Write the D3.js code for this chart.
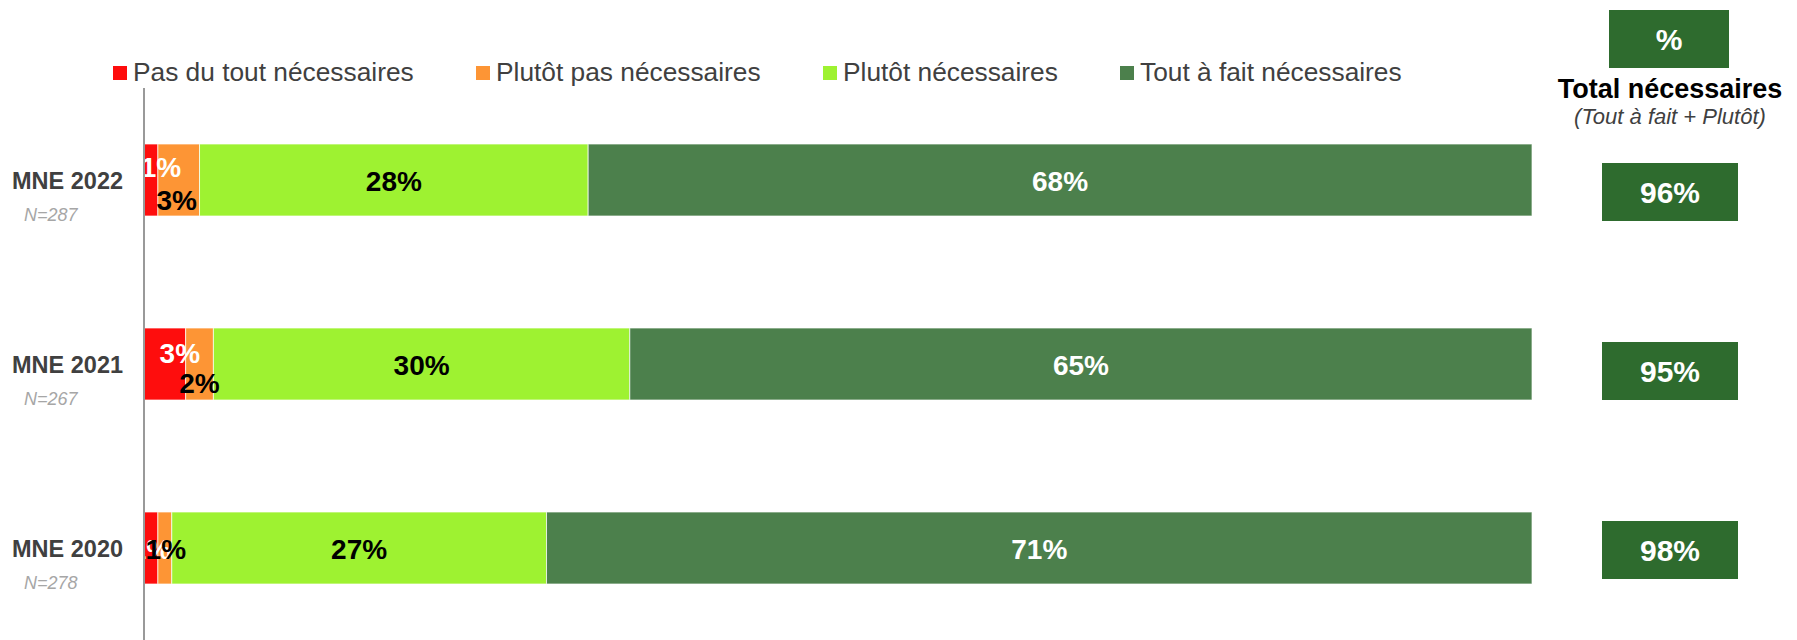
<!DOCTYPE html>
<html>
<head>
<meta charset="utf-8">
<script src="https://cdn.jsdelivr.net/npm/d3@7"></script>
<style>
  body { margin: 0; background: #fff; }
  text { font-family: "Liberation Sans", Arial, sans-serif; }
</style>
</head>
<body>
<div id="chart"></div>
<script>
// survey data, one row per wave
var categories = ['MNE 2022', 'MNE 2021', 'MNE 2020'];
var sampleSizes = ['N=287', 'N=267', 'N=278'];
var seriesNames = ['Pas du tout nécessaires', 'Plutôt pas nécessaires', 'Plutôt nécessaires', 'Tout à fait nécessaires'];
var pasDuTout = [1, 3, 1];
var plutotPas = [3, 2, 1];
var plutot = [28, 30, 27];
var toutAFait = [68, 65, 71];
var totals = [96, 95, 98];

var colors = ['#fe0d0d', '#fd9535', '#9ef231', '#4c804c'];
var labelColors = ['#fff', '#000', '#000', '#fff'];
var boxGreen = '#2e6b2e';

var W = 1797, H = 640;
var svg = d3.select('#chart').append('svg')
    .attr('width', W)
    .attr('height', H);

var x = d3.scaleLinear().domain([0, 100]).range([144, 1532]);
var y = d3.scalePoint().domain(categories).range([180, 548]);
var yTot = d3.scalePoint().domain(categories).range([192, 550]);
var barH = 72;

// stack the rows
var rows = categories.map(function(c, i){
    return {cat: c, v: [pasDuTout[i], plutotPas[i], plutot[i], toutAFait[i]]};
});
var stack = d3.stack().keys([0, 1, 2, 3]).value(function(d, k){ return d.v[k]; });
var layers = stack(rows);

// small labels get pushed around so they don't overlap (dx, dy per segment)
var nudgeY = {'MNE 2022': [-14, 19, 0, 0], 'MNE 2021': [-12, 18, 0, 0], 'MNE 2020': [0, 0, 0, 0]};
var nudgeX = {'MNE 2022': [10, -2, 0, 0], 'MNE 2021': [15, 0, 0, 0], 'MNE 2020': [0, 1, 0, 0]};

var g = svg.append('g');
layers.forEach(function(layer, k){
    g.selectAll('.seg' + k)
        .data(layer)
        .enter().append('rect')
        .attr('x', function(d){ return x(d[0]); })
        .attr('y', function(d){ return y(d.data.cat) - barH / 2; })
        .attr('width', function(d){ return x(d[1]) - x(d[0]); })
        .attr('height', barH)
        .attr('fill', colors[k])
        .attr('stroke', 'rgba(255,255,255,0.7)')
        .attr('stroke-width', 1);
});

layers.forEach(function(layer, k){
    g.selectAll('.lab' + k)
        .data(layer)
        .enter().append('text')
        .attr('x', function(d){ return (x(d[0]) + x(d[1])) / 2 + nudgeX[d.data.cat][k]; })
        .attr('y', function(d){ return y(d.data.cat) + 11 + nudgeY[d.data.cat][k]; })
        .attr('text-anchor', 'middle')
        .attr('font-size', '28px')
        .attr('font-weight', 'bold')
        .attr('fill', labelColors[k])
        .text(function(d){ return (d[1] - d[0]) + '%'; });
});

// vertical axis line
svg.append('line')
    .attr('x1', x(0)).attr('x2', x(0))
    .attr('y1', 88).attr('y2', H)
    .attr('stroke', '#999')
    .attr('stroke-width', 2);

// category labels
categories.forEach(function(c, i){
    svg.append('text')
        .attr('x', 12)
        .attr('y', y(c) + 9)
        .attr('font-size', '23.5px')
        .attr('font-weight', 'bold')
        .attr('fill', '#404040')
        .text(c);
    svg.append('text')
        .attr('x', 24)
        .attr('y', y(c) + 41)
        .attr('font-size', '18px')
        .attr('font-style', 'italic')
        .attr('fill', '#a6a6a6')
        .text(sampleSizes[i]);
});

// legend
var legendX = [113, 476, 823, 1120];
var legend = svg.append('g');
seriesNames.forEach(function(s, k){
    legend.append('rect')
        .attr('x', legendX[k]).attr('y', 66)
        .attr('width', 14).attr('height', 14)
        .attr('fill', colors[k]);
    legend.append('text')
        .attr('x', legendX[k] + 20)
        .attr('y', 81)
        .attr('font-size', '26.3px')
        .attr('fill', '#404040')
        .text(s);
});

// right-hand totals panel
var cx = 1670;
svg.append('rect')
    .attr('x', 1609).attr('y', 10)
    .attr('width', 120).attr('height', 58)
    .attr('fill', boxGreen);
svg.append('text')
    .attr('x', 1669).attr('y', 50)
    .attr('text-anchor', 'middle')
    .attr('font-size', '30px')
    .attr('font-weight', 'bold')
    .attr('fill', '#fff')
    .text('%');
svg.append('text')
    .attr('x', cx).attr('y', 98)
    .attr('text-anchor', 'middle')
    .attr('font-size', '27px')
    .attr('font-weight', 'bold')
    .attr('fill', '#000')
    .text('Total nécessaires');
svg.append('text')
    .attr('x', cx).attr('y', 124)
    .attr('text-anchor', 'middle')
    .attr('font-size', '22px')
    .attr('font-style', 'italic')
    .attr('fill', '#404040')
    .text('(Tout à fait + Plutôt)');

var tot = svg.append('g');
tot.selectAll('rect')
    .data(totals)
    .enter().append('rect')
    .attr('x', 1602)
    .attr('y', function(d, i){ return yTot(categories[i]) - 29; })
    .attr('width', 136).attr('height', 58)
    .attr('fill', boxGreen);
tot.selectAll('text')
    .data(totals)
    .enter().append('text')
    .attr('x', cx)
    .attr('y', function(d, i){ return yTot(categories[i]) + 11; })
    .attr('text-anchor', 'middle')
    .attr('font-size', '30px')
    .attr('font-weight', 'bold')
    .attr('fill', '#fff')
    .text(function(d){ return d + '%'; });
</script>
</body>
</html>
